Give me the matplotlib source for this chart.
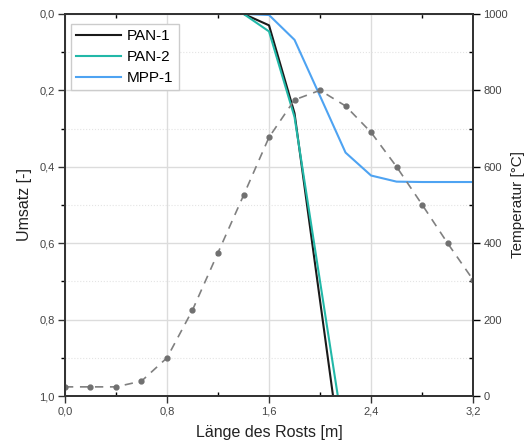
import matplotlib
matplotlib.use("Agg")
import matplotlib.pyplot as plt
from matplotlib.ticker import MultipleLocator, FuncFormatter

plt.rcParams['font.family'] = ['Liberation Sans', 'DejaVu Sans']

# Rostlänge [m], Stützstellen alle 0,2 m
laenge = [0.0, 0.2, 0.4, 0.6, 0.8, 1.0, 1.2, 1.4, 1.6, 1.8, 2.0, 2.2, 2.4, 2.6, 2.8, 3.0, 3.2]

# Umsatz [-]
pan1 = [0, 0, 0, 0, 0, 0, 0, 0, 0.030, 0.260, 0.750, 1.24]
pan2 = [0, 0, 0, 0, 0, 0, 0, 0, 0.046, 0.270, 0.700, 1.13]
mpp1 = [0, 0, 0, 0, 0, 0, 0, 0, 0.003, 0.068, 0.215, 0.363, 0.423, 0.439, 0.440, 0.440, 0.440]

# Temperatur [°C]
temperatur = [24, 24, 24, 39, 100, 225, 375, 525, 677, 775, 800, 759, 690, 600, 501, 400, 304]

fig = plt.figure(figsize=(5.28, 4.47), dpi=100)
ax = fig.add_axes([0.123, 0.114, 0.773, 0.855])
ax2 = ax.twinx()

ax.plot(laenge[:len(pan1)], pan1, color='#1a1a1a', lw=1.5, label='PAN-1')
ax.plot(laenge[:len(pan2)], pan2, color='#22b8a8', lw=1.5, label='PAN-2')
ax.plot(laenge, mpp1, color='#4ea3f2', lw=1.5, label='MPP-1')

ax2.plot(laenge, temperatur, color='#808080', lw=1.2, ls=(0, (5, 4)),
         marker='o', ms=3.5, mfc='#707070', mec='#707070')

ax.set_xlim(0, 3.2)
ax.set_ylim(1.0, 0.0)
ax2.set_ylim(0, 1000)

komma = FuncFormatter(lambda v, p: f'{v:.1f}'.replace('.', ','))
ax.xaxis.set_major_locator(MultipleLocator(0.8))
ax.xaxis.set_minor_locator(MultipleLocator(0.4))
ax.yaxis.set_major_locator(MultipleLocator(0.2))
ax.yaxis.set_minor_locator(MultipleLocator(0.1))
ax.xaxis.set_major_formatter(komma)
ax.yaxis.set_major_formatter(komma)
ax2.yaxis.set_major_locator(MultipleLocator(200))
ax2.yaxis.set_minor_locator(MultipleLocator(100))

ax.grid(True, which='major', color='#dcdcdc', lw=1.0)
ax.grid(True, which='minor', axis='y', color='#e4e4e4', lw=0.8, ls=':')
ax.set_axisbelow(True)

tick_col = '#444444'
ax.tick_params(axis='both', which='major', direction='out', length=5, width=1,
               labelsize=8, colors='#333333', labelcolor=tick_col, pad=2.5)
ax.tick_params(axis='x', which='minor', direction='in', length=3, width=1, top=True)
ax.tick_params(axis='y', which='minor', direction='out', length=3, width=1)
ax2.tick_params(axis='y', which='major', direction='out', length=5, width=1,
                labelsize=8, labelcolor=tick_col, pad=2.5)
ax2.tick_params(axis='y', which='minor', direction='in', length=3, width=1)

for a in (ax, ax2):
    for s in a.spines.values():
        s.set_color('#333333')
        s.set_linewidth(1.3)

ax.set_xlabel('Länge des Rosts [m]', fontsize=11.5, color='#222222', labelpad=6)
ax.set_ylabel('Umsatz [-]', fontsize=11.5, color='#222222', labelpad=5)
ax2.set_ylabel('Temperatur [°C]', fontsize=11, color='#222222', labelpad=2)

leg = ax.legend(loc='upper left', bbox_to_anchor=(0.0, 0.99), fontsize=11,
                handlelength=2.9, handletextpad=0.4, borderpad=0.35,
                labelspacing=0.45, fancybox=False, framealpha=1,
                edgecolor='#cccccc', borderaxespad=0.4)
leg.get_frame().set_linewidth(1.0)

fig.savefig('out.png', dpi=100)
